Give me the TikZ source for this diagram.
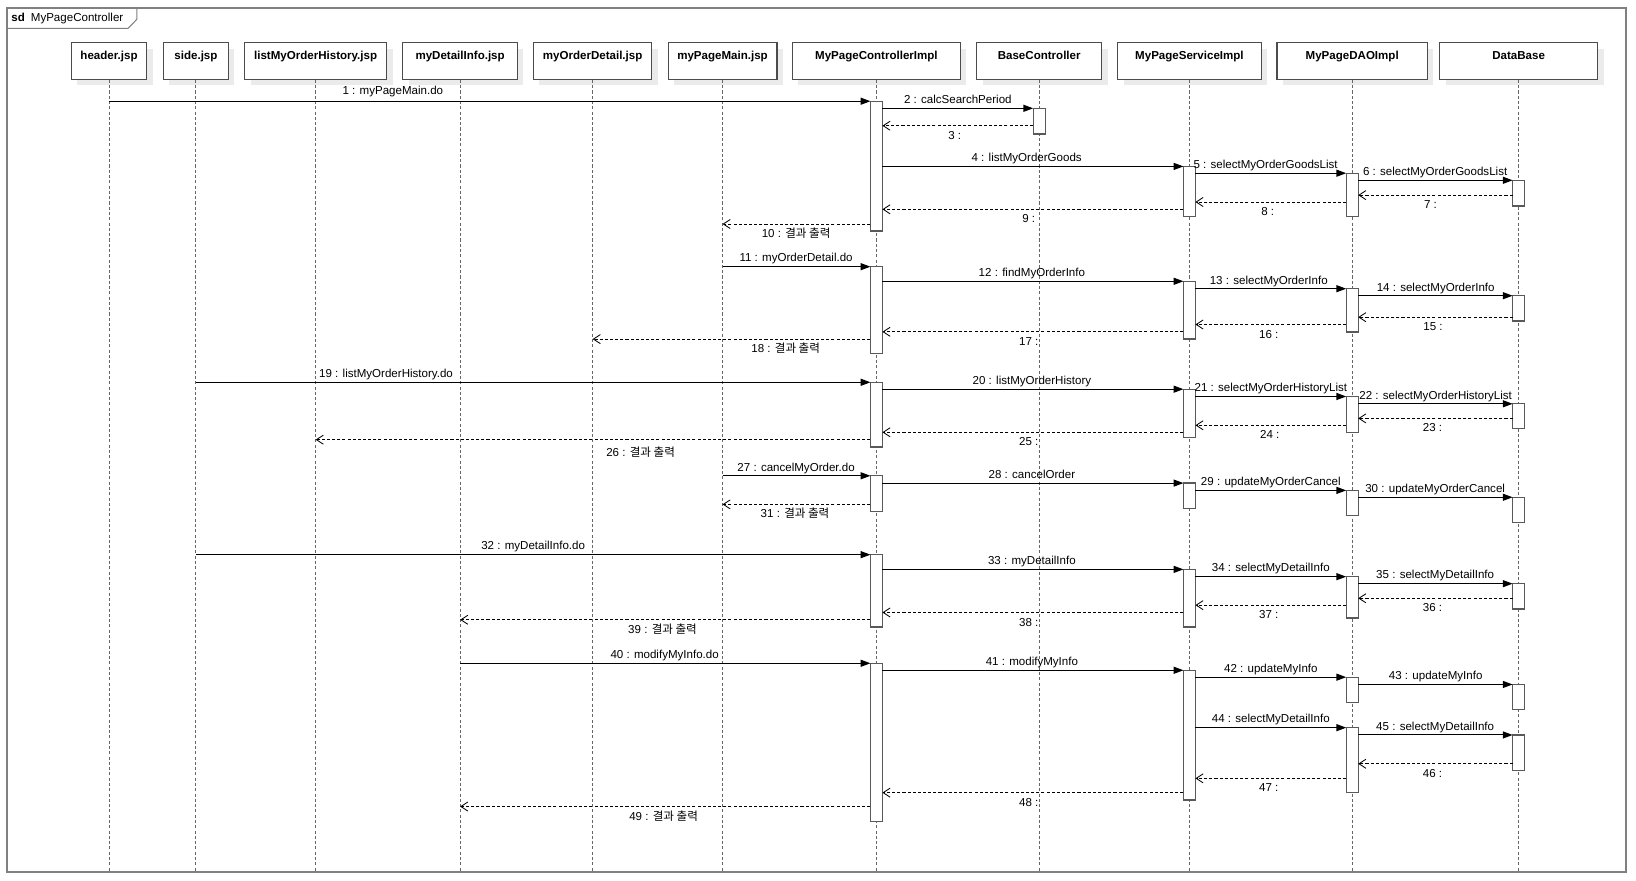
\documentclass[tikz,border=0pt]{standalone}
\usepackage{fontspec}
\setmainfont{Liberation Sans}
\newfontfamily\krfont{Noto Sans CJK KR}
\usetikzlibrary{arrows.meta,shadows}

\begin{document}
\begin{tikzpicture}[x=0.75pt,y=-0.75pt,
  every node/.style={font=\fontsize{8.3pt}{10pt}\selectfont},
  diagframe/.style={draw=black!50, line width=1.1pt},
  head/.style={draw=black!70, fill=white, line width=0.75pt,
    minimum width=#1*0.75pt, minimum height=25.6pt,
    inner xsep=0pt, inner ysep=5.6pt, text height=6.2pt, text depth=8.8pt,
    font=\fontsize{8.3pt}{10pt}\selectfont\bfseries,
    general shadow={fill=black!8, shadow xshift=4.3pt, shadow yshift=-4.3pt}},
  lifeline/.style={draw=black!60, line width=0.7pt, dash pattern=on 2.2pt off 1.6pt},
  act/.style={draw=black!65, fill=white, line width=0.9pt, minimum width=8.6pt,
    minimum height=#1*0.75pt, inner sep=0pt, outer sep=0pt, anchor=north},
  call/.style={draw=black, line width=0.75pt, -{Triangle[length=7pt,width=5pt]}},
  ret/.style={draw=black, line width=0.6pt, dash pattern=on 2.2pt off 1.5pt,
    -{Straight Barb[length=5pt,width=6.5pt]}},
  lbl/.style={anchor=base, inner sep=0pt}]

\useasboundingbox (0,0) rectangle (1568,844);

% frame with its name tab
\draw[diagframe] (6.5,7.5) rectangle (1558.5,835.5);
\draw[draw=black!50, line width=0.75pt] (6.5,27.2) -- (122.7,27.2) -- (131.2,18.5) -- (131.2,7.5);
\node[anchor=base west, inner sep=0pt] (sdtitle) at (10.7,20.5) {\textbf{sd}\hspace{4.3pt}MyPageController};

% participants
\node[head=72.3]  (hdr)  at (104.5,58.6) {header.jsp};
\node[head=62.2]  (side) at (187.8,58.6) {side.jsp};
\node[head=136.2] (loh)  at (302.5,58.6) {listMyOrderHistory.jsp};
\node[head=110]   (mdi)  at (441,58.6)   {myDetailInfo.jsp};
\node[head=113.5] (mod)  at (568,58.6)   {myOrderDetail.jsp};
\node[head=104.4] (mpm)  at (692.5,58.6) {myPageMain.jsp};
\node[head=161]   (ctl)  at (840,58.6)   {MyPageControllerImpl};
\node[head=120]   (base) at (996,58.6)   {BaseController};
\node[head=137.5] (svc)  at (1140,58.6)  {MyPageServiceImpl};
\node[head=144.2] (dao)  at (1296,58.6)  {MyPageDAOImpl};
\node[head=151.6] (db)   at (1455.5,58.6){DataBase};

% lifelines
\foreach \p in {hdr,side,loh,mdi,mod,mpm,ctl,base,svc,dao,db}
  \draw[lifeline] (\p.south) -- (\p.south |- 0,835.5);

% activation bars
\node[act=124.4] (ctl1) at (840,97) {};
\node[act=82.9]  (ctl2) at (840,255.6) {};
\node[act=62]    (ctl3) at (840,366.4) {};
\node[act=34]    (ctl4) at (840,456) {};
\node[act=69.4]  (ctl5) at (840,531.6) {};
\node[act=151.3] (ctl6) at (840,635.7) {};

\node[act=24.7] (base1) at (996,103.8) {};

\node[act=48.2]  (svc1) at (1140,159.5) {};
\node[act=55.4]  (svc2) at (1140,269.6) {};
\node[act=46]    (svc3) at (1140,373) {};
\node[act=24]    (svc4) at (1140,463) {};
\node[act=55.3]  (svc5) at (1140,545.7) {};
\node[act=124.3] (svc6) at (1140,642.4) {};

\node[act=41.7] (dao1) at (1296,166) {};
\node[act=41.5] (dao2) at (1296,276.7) {};
\node[act=34.7] (dao3) at (1296,380) {};
\node[act=24]   (dao4) at (1296,470) {};
\node[act=39.6] (dao5) at (1296,552.7) {};
\node[act=24.5] (dao6) at (1296,649) {};
\node[act=62.3] (dao7) at (1296,697.4) {};

\node[act=24.6] (db1) at (1455.5,172.8) {};
\node[act=24.2] (db2) at (1455.5,283.4) {};
\node[act=24]   (db3) at (1455.5,387) {};
\node[act=24]   (db4) at (1455.5,476.6) {};
\node[act=24.3] (db5) at (1455.5,559.4) {};
\node[act=24]   (db6) at (1455.5,656) {};
\node[act=34.2] (db7) at (1455.5,704.4) {};

% myPageMain.do
\draw[call] (hdr.south |- ctl1.north) -- (ctl1.north west) node[lbl] (t1) at (376.5,90.3) {1 : myPageMain.do};
\draw[call] (ctl1.east |- base1.north) -- (base1.north west) node[lbl] (t2) at (918,99.5) {2 : calcSearchPeriod};
\draw[ret] (base1.west |- 0,120.5) -- (ctl1.east |- 0,120.5) node[lbl] (t3) at (915,133.5) {3 :};
\draw[call] (ctl1.east |- svc1.north) -- (svc1.north west) node[lbl] (t4) at (984,154.5) {4 : listMyOrderGoods};
\draw[call] (svc1.east |- dao1.north) -- (dao1.north west) node[lbl] (t5) at (1213,161.5) {5 : selectMyOrderGoodsList};
\draw[call] (dao1.east |- db1.north) -- (db1.north west) node[lbl] (t6) at (1375.5,168.3) {6 : selectMyOrderGoodsList};
\draw[ret] (db1.west |- 0,187) -- (dao1.east |- 0,187) node[lbl] (t7) at (1371,200) {7 :};
\draw[ret] (dao1.west |- 0,193.6) -- (svc1.east |- 0,193.6) node[lbl] (t8) at (1215,206.6) {8 :};
\draw[ret] (svc1.west |- 0,200.6) -- (ctl1.east |- 0,200.6) node[lbl] (t9) at (986,213.6) {9 :};
\draw[ret] (ctl1.west |- 0,214.7) -- (mpm.south |- 0,214.7) node[lbl] (t10) at (763,227.7) {10 : {\krfont 결과 출력}};

% myOrderDetail.do
\draw[call] (mpm.south |- ctl2.north) -- (ctl2.north west) node[lbl] (t11) at (763,251.1) {11 : myOrderDetail.do};
\draw[call] (ctl2.east |- svc2.north) -- (svc2.north west) node[lbl] (t12) at (989,265.1) {12 : findMyOrderInfo};
\draw[call] (svc2.east |- dao2.north) -- (dao2.north west) node[lbl] (t13) at (1216,272.2) {13 : selectMyOrderInfo};
\draw[call] (dao2.east |- db2.north) -- (db2.north west) node[lbl] (t14) at (1376,278.9) {14 : selectMyOrderInfo};
\draw[ret] (db2.west |- 0,304) -- (dao2.east |- 0,304) node[lbl] (t15) at (1373.5,317) {15 :};
\draw[ret] (dao2.west |- 0,311) -- (svc2.east |- 0,311) node[lbl] (t16) at (1216,324) {16 :};
\draw[ret] (svc2.west |- 0,318) -- (ctl2.east |- 0,318) node[lbl] (t17) at (986,331) {17 :};
\draw[ret] (ctl2.west |- 0,325) -- (mod.south |- 0,325) node[lbl] (t18) at (753,338) {18 : {\krfont 결과 출력}};

% listMyOrderHistory.do
\draw[call] (side.south |- ctl3.north) -- (ctl3.north west) node[lbl] (t19) at (370,361.9) {19 : listMyOrderHistory.do};
\draw[call] (ctl3.east |- svc3.north) -- (svc3.north west) node[lbl] (t20) at (989,368.5) {20 : listMyOrderHistory};
\draw[call] (svc3.east |- dao3.north) -- (dao3.north west) node[lbl] (t21) at (1218,375.5) {21 : selectMyOrderHistoryList};
\draw[call] (dao3.east |- db3.north) -- (db3.north west) node[lbl] (t22) at (1376,382.5) {22 : selectMyOrderHistoryList};
\draw[ret] (db3.west |- 0,401) -- (dao3.east |- 0,401) node[lbl] (t23) at (1373,414) {23 :};
\draw[ret] (dao3.west |- 0,407.6) -- (svc3.east |- 0,407.6) node[lbl] (t24) at (1217,420.6) {24 :};
\draw[ret] (svc3.west |- 0,414.3) -- (ctl3.east |- 0,414.3) node[lbl] (t25) at (986,427.3) {25 :};
\draw[ret] (ctl3.west |- 0,421.4) -- (loh.south |- 0,421.4) node[lbl] (t26) at (614,437.5) {26 : {\krfont 결과 출력}};

% cancelMyOrder.do
\draw[call] (mpm.south |- ctl4.north) -- (ctl4.north west) node[lbl] (t27) at (763,451.5) {27 : cancelMyOrder.do};
\draw[call] (ctl4.east |- svc4.north) -- (svc4.north west) node[lbl] (t28) at (989,458.5) {28 : cancelOrder};
\draw[call] (svc4.east |- dao4.north) -- (dao4.north west) node[lbl] (t29) at (1218,465.5) {29 : updateMyOrderCancel};
\draw[call] (dao4.east |- db4.north) -- (db4.north west) node[lbl] (t30) at (1375.5,472.1) {30 : updateMyOrderCancel};
\draw[ret] (ctl4.west |- 0,483.4) -- (mpm.south |- 0,483.4) node[lbl] (t31) at (762,496.4) {31 : {\krfont 결과 출력}};

% myDetailInfo.do
\draw[call] (side.south |- ctl5.north) -- (ctl5.north west) node[lbl] (t32) at (511,527.1) {32 : myDetailInfo.do};
\draw[call] (ctl5.east |- svc5.north) -- (svc5.north west) node[lbl] (t33) at (989,541.2) {33 : myDetailInfo};
\draw[call] (svc5.east |- dao5.north) -- (dao5.north west) node[lbl] (t34) at (1218,548.2) {34 : selectMyDetailInfo};
\draw[call] (dao5.east |- db5.north) -- (db5.north west) node[lbl] (t35) at (1375.5,554.9) {35 : selectMyDetailInfo};
\draw[ret] (db5.west |- 0,573.4) -- (dao5.east |- 0,573.4) node[lbl] (t36) at (1373,586.4) {36 :};
\draw[ret] (dao5.west |- 0,580) -- (svc5.east |- 0,580) node[lbl] (t37) at (1216,593) {37 :};
\draw[ret] (svc5.west |- 0,587) -- (ctl5.east |- 0,587) node[lbl] (t38) at (986,600) {38 :};
\draw[ret] (ctl5.west |- 0,594) -- (mdi.south |- 0,594) node[lbl] (t39) at (635,607) {39 : {\krfont 결과 출력}};

% modifyMyInfo.do
\draw[call] (mdi.south |- ctl6.north) -- (ctl6.north west) node[lbl] (t40) at (637,631.2) {40 : modifyMyInfo.do};
\draw[call] (ctl6.east |- svc6.north) -- (svc6.north west) node[lbl] (t41) at (989,637.9) {41 : modifyMyInfo};
\draw[call] (svc6.east |- dao6.north) -- (dao6.north west) node[lbl] (t42) at (1218,644.5) {42 : updateMyInfo};
\draw[call] (dao6.east |- db6.north) -- (db6.north west) node[lbl] (t43) at (1376,651.5) {43 : updateMyInfo};
\draw[call] (svc6.east |- dao7.north) -- (dao7.north west) node[lbl] (t44) at (1218,692.9) {44 : selectMyDetailInfo};
\draw[call] (dao7.east |- db7.north) -- (db7.north west) node[lbl] (t45) at (1375.5,699.9) {45 : selectMyDetailInfo};
\draw[ret] (db7.west |- 0,732) -- (dao7.east |- 0,732) node[lbl] (t46) at (1373,745) {46 :};
\draw[ret] (dao7.west |- 0,746) -- (svc6.east |- 0,746) node[lbl] (t47) at (1216,759) {47 :};
\draw[ret] (svc6.west |- 0,759.7) -- (ctl6.east |- 0,759.7) node[lbl] (t48) at (986,772.7) {48 :};
\draw[ret] (ctl6.west |- 0,773) -- (mdi.south |- 0,773) node[lbl] (t49) at (636,786) {49 : {\krfont 결과 출력}};

\end{tikzpicture}
\end{document}
